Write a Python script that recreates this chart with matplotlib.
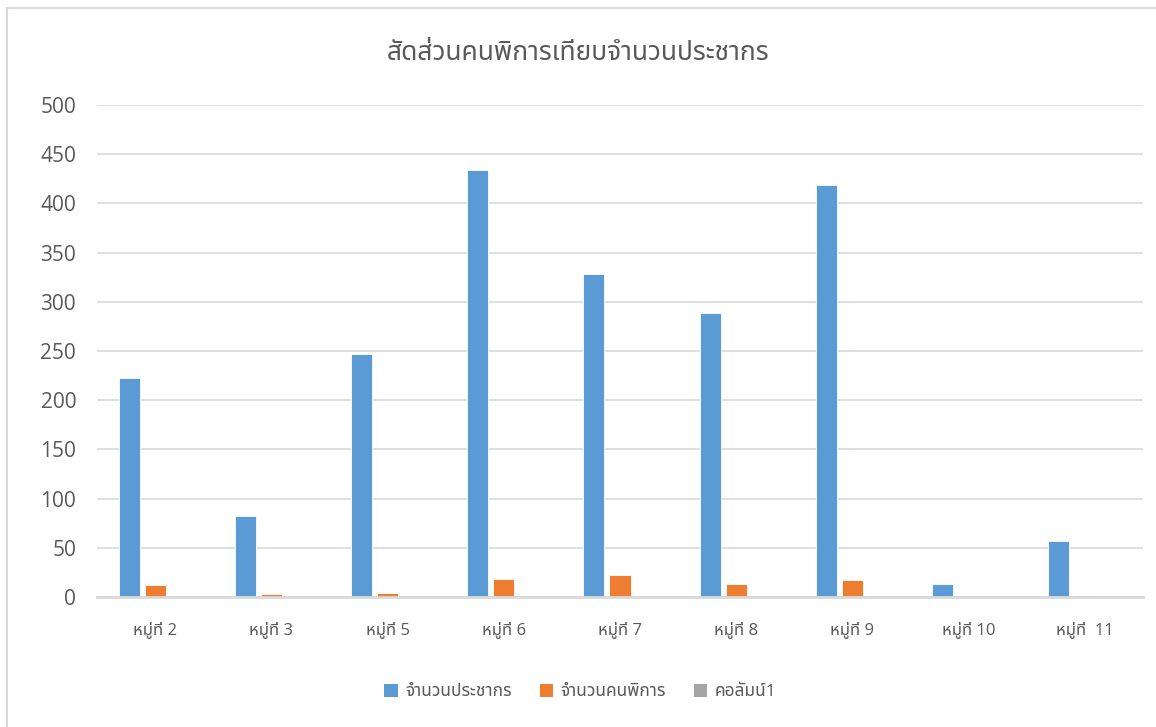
import matplotlib
matplotlib.use('Agg')
import numpy as np
import matplotlib.pyplot as plt
from matplotlib import font_manager
from matplotlib.lines import Line2D
from matplotlib.patches import Patch

# data
villages = ['หมู่ที่ 2', 'หมู่ที่ 3', 'หมู่ที่ 5', 'หมู่ที่ 6', 'หมู่ที่ 7',
            'หมู่ที่ 8', 'หมู่ที่ 9', 'หมู่ที่ 10', 'หมู่ที่  11']
population = [223, 82, 247, 434, 328, 289, 419, 13, 57]
disabled = [12, 3, 4, 18, 22, 13, 17, 0, 2]
column1 = [0, 0, 0, 0, 0, 0, 0, 0, 0]
series_names = ['จำนวนประชากร', 'จำนวนคนพิการ', 'คอลัมน์1']
title = 'สัดส่วนคนพิการเทียบจำนวนประชากร'
yticks = [0, 50, 100, 150, 200, 250, 300, 350, 400, 450, 500]

# pick a Thai font that is installed
names = {f.name for f in font_manager.fontManager.ttflist}
thai = 'Sarabun'
for cand in ['Noto Sans Thai', 'IBM Plex Sans Thai Looped', 'Sarabun', 'Loma']:
    if cand in names:
        thai = cand
        break
plt.rcParams['font.family'] = ['Open Sans', thai, 'DejaVu Sans']

TXT = '#595959'
GRID = '#D9D9D9'
colors = ['#5B9BD5', '#ED7D31', '#A5A5A5']

fig = plt.figure(figsize=(11.56, 7.27), dpi=100)
ax = fig.add_axes([97 / 1156, 130 / 727, (1143 - 97) / 1156, (597 - 105) / 727])

x = np.arange(len(villages))
w = 0.181
step = 0.224
for i, vals in enumerate([population, disabled, column1]):
    bars = ax.bar(x + (i - 1) * step, vals, width=w, color=colors[i],
                  edgecolor='white', linewidth=0.6, label=series_names[i], zorder=3)
    if i == 1:
        # last orange bar is drawn in a lighter tone
        bars[-1].set_facecolor('#EDB896')

ax.set_xlim(-0.5, len(villages) - 0.5)
ax.set_ylim(0, 500)
ax.set_yticks(yticks)
ax.set_yticklabels([str(v) for v in yticks], fontsize=15, color=TXT)
ax.set_xticks(x)
ax.set_xticklabels(villages, fontsize=12, color=TXT)
ax.tick_params(axis='both', length=0)
ax.tick_params(axis='y', pad=15)
ax.tick_params(axis='x', pad=17)
ax.grid(axis='y', color=GRID, linewidth=1.2, zorder=0)
for s in ['top', 'right', 'left']:
    ax.spines[s].set_visible(False)
ax.spines['bottom'].set_color(GRID)
ax.spines['bottom'].set_linewidth(2)
ax.spines['bottom'].set_zorder(4)

fig.text(0.5, 1 - 53 / 727, title, ha='center', va='center', fontsize=19, color=TXT)

handles = [Patch(facecolor=c) for c in colors]
fig.legend(handles, series_names, loc='center', bbox_to_anchor=(0.502, 1 - 692 / 727),
           ncol=3, frameon=False, fontsize=12.5, labelcolor=TXT,
           handlelength=0.8, handleheight=0.8, handletextpad=0.4, columnspacing=1.6)

# chart border (left and top edges visible)
fig.add_artist(Line2D([7 / 1156, 7 / 1156], [0, 1 - 8 / 727], color=GRID, lw=1.5,
                      transform=fig.transFigure))
fig.add_artist(Line2D([7 / 1156, 1], [1 - 8 / 727, 1 - 8 / 727], color=GRID, lw=1.5,
                      transform=fig.transFigure))

fig.savefig('out.png')
